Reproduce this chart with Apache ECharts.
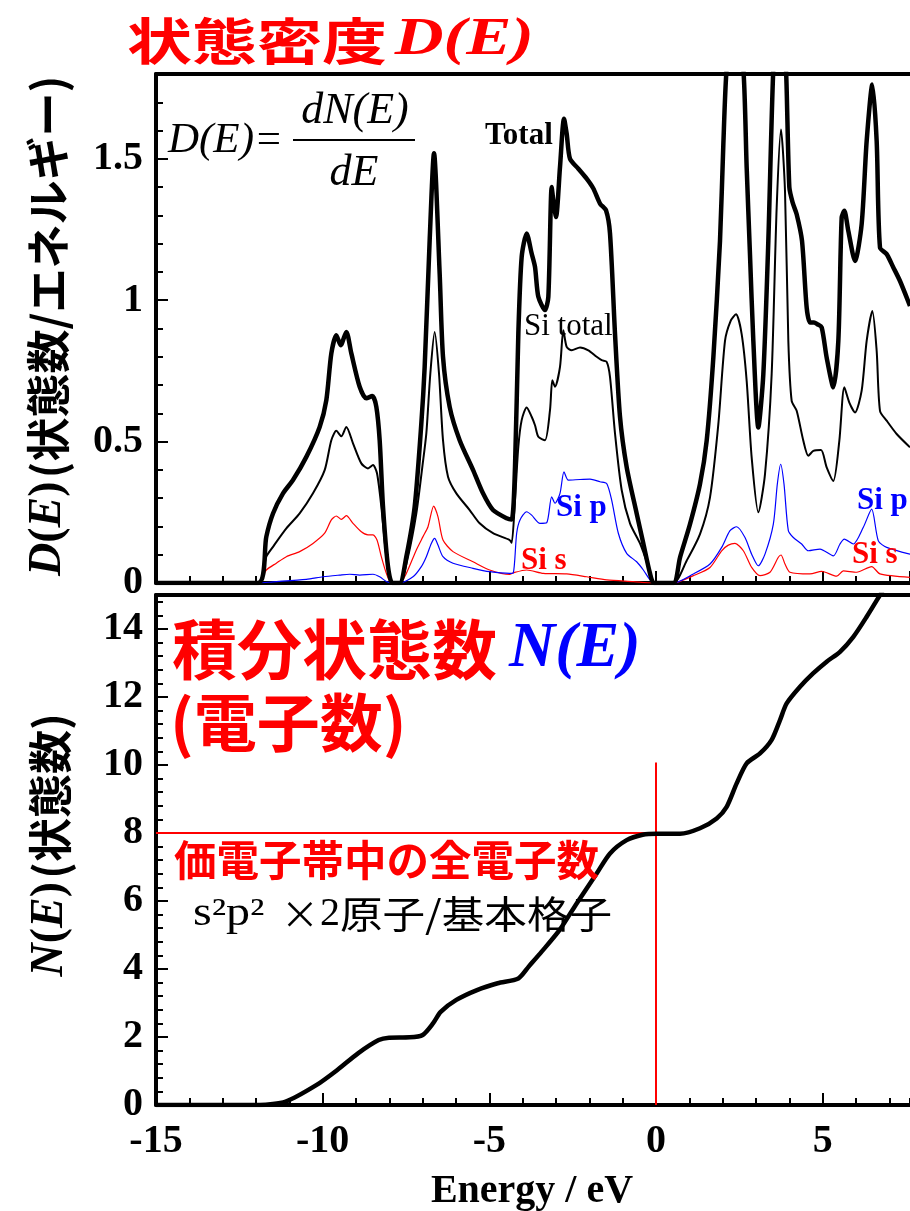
<!DOCTYPE html>
<html>
<head>
<meta charset="utf-8">
<script src="https://cdn.jsdelivr.net/npm/echarts@6/dist/echarts.min.js"></script>
<style>
  html, body { margin: 0; padding: 0; background: #ffffff; }
  #chart { width: 910px; height: 1211px; }
</style>
</head>
<body>
<div id="chart"></div>
<script>
// ---- Energy axis (eV) ----
const energyMin = -15;
const energyMax = 7.62;
const energyTickLabels = ['-15', '-10', '-5', '0', '5'];

// ---- Density of states D(E), [energy, states/eV] ----
const totalDOS = [
  [-15, 0], [-11.94, 0], [-11.69, 0.164], [-11.49, 0.246], [-11.19, 0.317], [-10.89, 0.364],
  [-10.49, 0.446], [-10.09, 0.552], [-9.89, 0.647], [-9.74, 0.812], [-9.59, 0.876], [-9.46, 0.841],
  [-9.29, 0.888], [-9.14, 0.812], [-8.89, 0.694], [-8.69, 0.653], [-8.51, 0.661], [-8.39, 0.623],
  [-8.29, 0.505], [-8.19, 0.27], [-8.04, 0.058], [-7.91, 0], [-7.69, 0], [-7.49, 0.093],
  [-7.24, 0.27], [-7.04, 0.564], [-6.94, 0.764], [-6.79, 1.212], [-6.66, 1.52], [-6.49, 1.094],
  [-6.39, 0.80], [-6.19, 0.623], [-5.89, 0.505], [-5.49, 0.40], [-5.19, 0.317], [-4.89, 0.258],
  [-4.48, 0.229], [-4.33, 0.225], [-4.23, 0.41], [-4.13, 0.882], [-4.03, 1.153], [-3.88, 1.236],
  [-3.73, 1.165], [-3.63, 1.118], [-3.53, 1.012], [-3.33, 0.965], [-3.23, 1.012], [-3.13, 1.40],
  [-3.08, 1.353], [-3.0, 1.294], [-2.88, 1.471], [-2.76, 1.642], [-2.68, 1.589], [-2.58, 1.50],
  [-2.33, 1.465], [-2.08, 1.43], [-1.88, 1.395], [-1.68, 1.342], [-1.50, 1.318], [-1.38, 1.236],
  [-1.23, 0.882], [-1.08, 0.588], [-0.88, 0.41], [-0.58, 0.246], [-0.38, 0.14], [-0.18, 0.034],
  [-0.06, 0], [0.52, 0], [0.72, 0.09], [1.02, 0.208], [1.32, 0.35], [1.52, 0.503], [1.72, 0.797],
  [1.92, 1.21], [2.02, 1.55], [2.12, 1.82], [2.37, 2.05], [2.62, 1.82], [2.72, 1.47], [2.82, 1.16],
  [2.92, 0.856], [3.07, 0.55], [3.22, 0.739], [3.37, 1.21], [3.52, 1.82], [3.72, 2.2], [3.90, 1.82],
  [4.0, 1.40], [4.1, 1.345], [4.22, 1.304], [4.38, 1.21], [4.52, 0.974], [4.62, 0.921], [4.74, 0.921],
  [4.84, 0.915], [4.97, 0.904], [5.12, 0.797], [5.32, 0.692], [5.47, 0.856], [5.57, 1.292],
  [5.65, 1.316], [5.77, 1.245], [5.97, 1.139], [6.17, 1.269], [6.32, 1.563], [6.49, 1.763],
  [6.62, 1.563], [6.72, 1.186], [6.92, 1.163], [7.12, 1.116], [7.32, 1.068], [7.62, 0.98]
];
const siTotalDOS = [
  [-15, 0], [-11.94, 0], [-11.69, 0.093], [-11.49, 0.128], [-11.09, 0.193], [-10.69, 0.246],
  [-10.29, 0.317], [-9.94, 0.399], [-9.74, 0.505], [-9.59, 0.538], [-9.44, 0.519], [-9.29, 0.552],
  [-9.09, 0.494], [-8.84, 0.423], [-8.64, 0.405], [-8.49, 0.417], [-8.37, 0.388], [-8.24, 0.27],
  [-8.09, 0.093], [-7.94, 0], [-7.69, 0], [-7.44, 0.093], [-7.19, 0.246], [-7.01, 0.411],
  [-6.89, 0.529], [-6.77, 0.741], [-6.64, 0.888], [-6.51, 0.741], [-6.39, 0.505], [-6.24, 0.376],
  [-5.99, 0.317], [-5.59, 0.258], [-5.29, 0.211], [-4.89, 0.176], [-4.39, 0.152], [-4.33, 0.142],
  [-4.23, 0.293], [-4.13, 0.482], [-4.03, 0.576], [-3.88, 0.621], [-3.73, 0.588], [-3.63, 0.558],
  [-3.53, 0.517], [-3.33, 0.505], [-3.18, 0.611], [-3.11, 0.717], [-3.03, 0.694], [-2.88, 0.764],
  [-2.78, 0.894], [-2.68, 0.835], [-2.53, 0.823], [-2.28, 0.833], [-2.03, 0.823], [-1.78, 0.80],
  [-1.63, 0.788], [-1.48, 0.782], [-1.38, 0.729], [-1.23, 0.529], [-1.03, 0.329], [-0.78, 0.211],
  [-0.48, 0.14], [-0.23, 0.058], [-0.08, 0], [0.52, 0], [0.92, 0.079], [1.32, 0.173], [1.62, 0.303],
  [1.87, 0.562], [2.07, 0.856], [2.24, 0.927], [2.40, 0.95], [2.57, 0.88], [2.72, 0.715],
  [2.87, 0.444], [3.07, 0.25], [3.27, 0.385], [3.47, 0.739], [3.62, 1.327], [3.75, 1.604],
  [3.87, 1.386], [3.97, 0.856], [4.07, 0.644], [4.22, 0.609], [4.42, 0.503], [4.57, 0.45],
  [4.72, 0.467], [4.95, 0.47], [5.12, 0.409], [5.32, 0.361], [5.50, 0.503], [5.65, 0.692],
  [5.80, 0.638], [5.97, 0.603], [6.17, 0.68], [6.32, 0.856], [6.49, 0.962], [6.62, 0.821],
  [6.72, 0.609], [6.92, 0.574], [7.22, 0.527], [7.62, 0.48]
];
const siSDOS = [
  [-15, 0], [-11.94, 0], [-11.69, 0.046], [-11.39, 0.07], [-11.09, 0.093], [-10.69, 0.111],
  [-10.29, 0.14], [-9.94, 0.176], [-9.74, 0.223], [-9.59, 0.237], [-9.44, 0.225], [-9.29, 0.238],
  [-9.09, 0.211], [-8.84, 0.181], [-8.64, 0.17], [-8.49, 0.17], [-8.37, 0.152], [-8.24, 0.093],
  [-8.09, 0.034], [-7.94, 0], [-7.69, 0], [-7.49, 0.034], [-7.19, 0.117], [-6.99, 0.164],
  [-6.84, 0.199], [-6.67, 0.272], [-6.54, 0.234], [-6.39, 0.152], [-6.09, 0.111], [-5.49, 0.075],
  [-4.99, 0.046], [-4.39, 0.03], [-4.28, 0.036], [-3.88, 0.046], [-3.38, 0.034], [-2.68, 0.032],
  [-2.08, 0.022], [-1.48, 0.011], [-0.68, 0.005], [-0.08, 0], [0.52, 0], [1.12, 0.026],
  [1.62, 0.055], [1.97, 0.114], [2.17, 0.134], [2.37, 0.14], [2.62, 0.114], [2.87, 0.055],
  [3.12, 0.026], [3.42, 0.038], [3.67, 0.091], [3.75, 0.099], [3.87, 0.067], [4.02, 0.038],
  [4.62, 0.032], [4.97, 0.041], [5.42, 0.024], [5.62, 0.043], [6.02, 0.038], [6.47, 0.058],
  [6.72, 0.032], [7.62, 0.02]
];
const siPDOS = [
  [-15, 0], [-11.94, 0], [-11.49, 0.004], [-10.49, 0.013], [-9.99, 0.022], [-9.49, 0.028],
  [-9.19, 0.031], [-8.89, 0.028], [-8.49, 0.031], [-8.29, 0.022], [-8.09, 0.005], [-7.94, 0],
  [-7.69, 0], [-7.29, 0.022], [-7.04, 0.058], [-6.89, 0.093], [-6.74, 0.14], [-6.64, 0.158],
  [-6.54, 0.134], [-6.39, 0.093], [-6.09, 0.07], [-5.49, 0.052], [-4.99, 0.04], [-4.39, 0.034],
  [-4.28, 0.036], [-4.18, 0.176], [-4.08, 0.223], [-3.88, 0.252], [-3.73, 0.24], [-3.48, 0.211],
  [-3.28, 0.213], [-3.13, 0.305], [-3.03, 0.282], [-2.88, 0.317], [-2.76, 0.393], [-2.63, 0.364],
  [-2.28, 0.366], [-1.98, 0.367], [-1.68, 0.358], [-1.48, 0.352], [-1.33, 0.293], [-1.13, 0.176],
  [-0.88, 0.105], [-0.58, 0.075], [-0.38, 0.046], [-0.18, 0.011], [-0.08, 0], [0.52, 0],
  [1.12, 0.032], [1.62, 0.067], [1.97, 0.126], [2.22, 0.185], [2.42, 0.199], [2.67, 0.161],
  [2.87, 0.102], [3.07, 0.061], [3.27, 0.102], [3.52, 0.208], [3.64, 0.35], [3.74, 0.42],
  [3.84, 0.35], [3.97, 0.185], [4.12, 0.161], [4.37, 0.138], [4.57, 0.114], [4.92, 0.12],
  [5.32, 0.096], [5.52, 0.138], [5.65, 0.155], [5.92, 0.138], [6.22, 0.197], [6.47, 0.261],
  [6.67, 0.149], [6.92, 0.126], [7.62, 0.102]
];
const dosTickLabels = ['0', '0.5', '1', '1.5'];

// ---- Integrated number of states N(E), [energy, states] ----
const integratedDOS = [
  [-15, 0], [-11.89, 0], [-11.11, 0.1], [-10.18, 0.59], [-9.56, 1.03], [-8.94, 1.52], [-8.32, 1.91],
  [-8.01, 1.98], [-7.39, 1.99], [-7.0, 2.06], [-6.69, 2.40], [-6.46, 2.74], [-5.99, 3.09],
  [-5.37, 3.38], [-4.75, 3.58], [-4.13, 3.72], [-3.82, 4.07], [-3.43, 4.51], [-2.89, 5.15],
  [-2.4, 5.9], [-1.78, 6.81], [-1.38, 7.40], [-0.88, 7.79], [-0.4, 7.95], [0.02, 7.98],
  [0.72, 7.98], [1.32, 8.14], [1.82, 8.43], [2.12, 8.77], [2.42, 9.46], [2.72, 10.05],
  [3.12, 10.34], [3.47, 10.74], [3.72, 11.32], [3.92, 11.81], [4.32, 12.30], [4.72, 12.70],
  [5.12, 13.04], [5.52, 13.33], [5.92, 13.77], [6.32, 14.36], [6.72, 15.0], [7.0, 15.45]
];
const countTickLabels = ['0', '2', '4', '6', '8', '10', '12', '14'];

// Valence electron count (8 per primitive cell) and the Fermi level marker
const valenceLine = [[-15, 8], [0.47, 8]];
const fermiLine = [[0, 0], [0, 10.07]];

const SERIF = '"Liberation Serif", "Times New Roman", serif';
const CJK = '"Noto Sans CJK JP", sans-serif';
const RED = '#ff0000';
const BLUE = '#0000ff';

const chart = echarts.init(document.getElementById('chart'), null, { renderer: 'canvas' });

const tickFont = { fontFamily: SERIF, fontWeight: 'bold', fontSize: 40, color: '#000' };
const pick = (list) => (v) => list.indexOf(String(v)) >= 0 ? String(v) : '';

function borderAxis(gridIndex, position) {
  return {
    type: 'value', gridIndex, position, min: energyMin, max: energyMax,
    axisLine: { show: true, onZero: false, lineStyle: { color: '#000', width: 4 } },
    axisTick: { show: false }, axisLabel: { show: false }, splitLine: { show: false }
  };
}
function majorX(gridIndex, showLabels) {
  return {
    type: 'value', gridIndex, position: 'bottom', min: energyMin, max: energyMax, interval: 5,
    axisLine: { show: true, onZero: false, lineStyle: { color: '#000', width: 4 } },
    axisTick: { show: true, inside: true, length: 12, lineStyle: { color: '#000', width: 2 } },
    axisLabel: Object.assign({ show: showLabels, margin: 17, showMaxLabel: false,
      formatter: pick(energyTickLabels) }, tickFont),
    splitLine: { show: false }
  };
}
function minorX(gridIndex) {
  return {
    type: 'value', gridIndex, position: 'bottom', min: energyMin, max: energyMax, interval: 1,
    axisLine: { show: false, onZero: false },
    axisTick: { show: true, inside: true, length: 7, lineStyle: { color: '#000', width: 2 } },
    axisLabel: { show: false }, splitLine: { show: false }
  };
}
function majorY(gridIndex, max, interval, labels) {
  return {
    type: 'value', gridIndex, position: 'left', min: 0, max, interval,
    axisLine: { show: true, onZero: false, lineStyle: { color: '#000', width: 4 } },
    axisTick: { show: true, inside: true, length: 12, lineStyle: { color: '#000', width: 2 } },
    axisLabel: Object.assign({ margin: 13, showMaxLabel: false, formatter: pick(labels) }, tickFont),
    splitLine: { show: false }
  };
}
function minorY(gridIndex, max, interval) {
  return {
    type: 'value', gridIndex, position: 'left', min: 0, max, interval,
    axisLine: { show: false, onZero: false },
    axisTick: { show: true, inside: true, length: 7, lineStyle: { color: '#000', width: 2 } },
    axisLabel: { show: false }, splitLine: { show: false }
  };
}

function curve(name, data, color, width, xi, yi, z) {
  return {
    name, type: 'line', data, xAxisIndex: xi, yAxisIndex: yi,
    showSymbol: false, symbol: 'none', smooth: 0.25, z,
    lineStyle: { color, width }, animation: false
  };
}

function label(x, y, text, font, fill, align, scaleX) {
  return {
    type: 'text', x, y, z: 10, scaleX: scaleX || 1,
    style: Object.assign({ text, fill, align: align || 'left', verticalAlign: 'middle',
      textAlign: align || 'left', textVerticalAlign: 'middle' }, font)
  };
}

const option = {
  animation: false,
  backgroundColor: '#ffffff',
  grid: [
    { left: 156, top: 74, width: 754, height: 509 },
    { left: 156, top: 595, width: 754, height: 510 }
  ],
  xAxis: [
    majorX(0, false), minorX(0), borderAxis(0, 'top'),
    majorX(1, true), minorX(1), borderAxis(1, 'top')
  ],
  yAxis: [
    majorY(0, 1.8, 0.5, dosTickLabels), minorY(0, 1.8, 0.1),
    majorY(1, 15, 2, countTickLabels), minorY(1, 15, 0.4)
  ],
  series: [
    curve('Si s', siSDOS, RED, 1.2, 0, 0, 2),
    curve('Si p', siPDOS, BLUE, 1.2, 0, 0, 3),
    curve('Si total', siTotalDOS, '#000', 2, 0, 0, 4),
    curve('Total', totalDOS, '#000', 4.5, 0, 0, 5),
    curve('valence', valenceLine, RED, 2, 3, 2, 2),
    curve('fermi', fermiLine, RED, 2, 3, 2, 2),
    curve('N(E)', integratedDOS, '#000', 4.5, 3, 2, 5)
  ],
  graphic: [
    // Panel title
    {
      type: 'text', x: 127, y: 41, scaleX: 1.3, z: 10,
      style: {
        text: '{c|状態密度}{m|D(E)}', align: 'left', verticalAlign: 'middle',
        textAlign: 'left', textVerticalAlign: 'middle',
        rich: {
          c: { fontFamily: CJK, fontWeight: 'bold', fontSize: 50, fill: RED },
          m: { fontFamily: SERIF, fontWeight: 'bold', fontStyle: 'italic', fontSize: 52, fill: RED,
               padding: [0, 0, 0, 6] }
        }
      }
    },
    // Defining formula D(E) = dN(E)/dE
    label(168, 141, 'D(E)=', { fontFamily: SERIF, fontStyle: 'italic', fontSize: 43 }, '#000'),
    label(355, 111, 'dN(E)', { fontFamily: SERIF, fontStyle: 'italic', fontSize: 44 }, '#000', 'center'),
    { type: 'line', z: 10, shape: { x1: 293, y1: 140, x2: 415, y2: 140 }, style: { stroke: '#000', lineWidth: 2 } },
    label(354, 173, 'dE', { fontFamily: SERIF, fontStyle: 'italic', fontSize: 44 }, '#000', 'center'),
    // Curve labels
    label(485, 136, 'Total', { fontFamily: SERIF, fontWeight: 'bold', fontSize: 31 }, '#000'),
    label(524, 327, 'Si total', { fontFamily: SERIF, fontSize: 31 }, '#000'),
    label(556, 508, 'Si p', { fontFamily: SERIF, fontWeight: 'bold', fontSize: 31 }, BLUE),
    label(857, 501, 'Si p', { fontFamily: SERIF, fontWeight: 'bold', fontSize: 31 }, BLUE),
    label(521, 561, 'Si s', { fontFamily: SERIF, fontWeight: 'bold', fontSize: 31 }, RED),
    label(852, 555, 'Si s', { fontFamily: SERIF, fontWeight: 'bold', fontSize: 31 }, RED),
    // Lower panel headings
    {
      type: 'text', x: 172, y: 649, z: 10,
      style: {
        text: '{c|積分状態数}{m|N(E)}', align: 'left', verticalAlign: 'middle',
        textAlign: 'left', textVerticalAlign: 'middle',
        rich: {
          c: { fontFamily: CJK, fontWeight: 'bold', fontSize: 65, fill: RED },
          m: { fontFamily: SERIF, fontWeight: 'bold', fontStyle: 'italic', fontSize: 64, fill: BLUE,
               padding: [0, 0, 0, 12] }
        }
      }
    },
    label(170, 722, '(電子数)', { fontFamily: CJK, fontWeight: 'bold', fontSize: 63 }, RED),
    label(174, 860, '価電子帯中の全電子数', { fontFamily: CJK, fontWeight: 'bold', fontSize: 42.5 }, RED),
    // Valence configuration: s²p² × 2 atoms per primitive cell
    label(193, 914, 's²p²', { fontFamily: SERIF, fontSize: 40 }, '#000', 'left', 1.2),
    label(281, 914, '×', { fontFamily: CJK, fontSize: 38 }, '#000'),
    label(320, 914, '2', { fontFamily: SERIF, fontSize: 40 }, '#000'),
    label(340, 914, '原子/基本格子', { fontFamily: CJK, fontSize: 38 }, '#000', 'left', 1.12),
    // Axis titles
    {
      type: 'text', x: 48, y: 326, rotation: Math.PI / 2, z: 10,
      style: {
        text: '{i|D}{p|(}{i|E}{p|)} {c|(状態数/エネルギー)}', align: 'center', verticalAlign: 'middle',
        textAlign: 'center', textVerticalAlign: 'middle',
        rich: {
          i: { fontFamily: SERIF, fontWeight: 'bold', fontStyle: 'italic', fontSize: 46, fill: '#000' },
          p: { fontFamily: SERIF, fontWeight: 'bold', fontSize: 46, fill: '#000' },
          c: { fontFamily: CJK, fontWeight: 'bold', fontSize: 44, fill: '#000' }
        }
      }
    },
    {
      type: 'text', x: 50, y: 845, rotation: Math.PI / 2, z: 10,
      style: {
        text: '{i|N}{p|(}{i|E}{p|)} {c|(状態数)}', align: 'center', verticalAlign: 'middle',
        textAlign: 'center', textVerticalAlign: 'middle',
        rich: {
          i: { fontFamily: SERIF, fontWeight: 'bold', fontStyle: 'italic', fontSize: 46, fill: '#000' },
          p: { fontFamily: SERIF, fontWeight: 'bold', fontSize: 46, fill: '#000' },
          c: { fontFamily: CJK, fontWeight: 'bold', fontSize: 44, fill: '#000' }
        }
      }
    },
    label(532, 1192, 'Energy / eV', { fontFamily: SERIF, fontWeight: 'bold', fontSize: 40 }, '#000', 'center')
  ]
};

chart.setOption(option);
</script>
</body>
</html>
